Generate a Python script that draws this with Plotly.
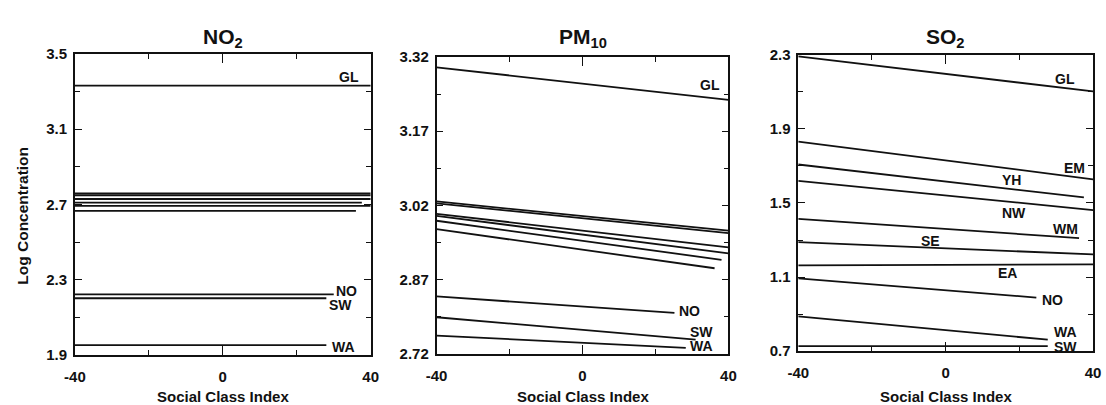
import plotly.graph_objects as go

# ---------------- data ----------------
x_start = -40

# NO2
no2_regions = ["GL", "EM", "YH", "NW", "WM", "SE", "EA", "NO", "SW", "WA"]
no2_y_start = [3.332, 2.759, 2.749, 2.729, 2.710, 2.692, 2.666, 2.222, 2.201, 1.952]
no2_y_end   = [3.332, 2.759, 2.749, 2.729, 2.710, 2.692, 2.666, 2.222, 2.201, 1.952]
no2_x_end   = [40, 40, 40, 40, 37.6, 40, 36, 30, 28, 28]
no2_labelled = ["GL", "NO", "SW", "WA"]

# PM10
pm10_regions = ["GL", "EM", "YH", "NW", "WM", "SE", "EA", "NO", "SW", "WA"]
pm10_y_start = [3.299, 3.028, 3.024, 3.003, 2.999, 2.989, 2.972, 2.836, 2.794, 2.757]
pm10_y_end   = [3.233, 2.969, 2.964, 2.935, 2.923, 2.910, 2.893, 2.803, 2.749, 2.732]
pm10_x_end   = [40, 40, 40, 40, 40, 38.1, 36.2, 25.2, 31, 28.3]
pm10_labelled = ["GL", "NO", "SW", "WA"]

# SO2
so2_regions = ["GL", "EM", "YH", "NW", "WM", "SE", "EA", "NO", "WA", "SW"]
so2_y_start = [2.293, 1.832, 1.708, 1.620, 1.414, 1.288, 1.163, 1.093, 0.887, 0.726]
so2_y_end   = [2.103, 1.628, 1.530, 1.462, 1.310, 1.222, 1.168, 0.989, 0.761, 0.726]
so2_x_end   = [40, 40, 37.5, 40, 36.2, 40, 40, 24.6, 27.7, 27.7]
so2_labelled = ["GL", "EM", "YH", "NW", "WM", "SE", "EA", "NO", "WA", "SW"]

no2_ticks = [1.9, 2.3, 2.7, 3.1, 3.5]
pm10_ticks = [2.72, 2.87, 3.02, 3.17, 3.32]
so2_ticks = [0.7, 1.1, 1.5, 1.9, 2.3]
x_ticks = [-40, 0, 40]

# ---------------- label placement (pixel offsets from line end) ----------------
label_offsets = {
    1: {"GL": (-22, 9), "NO": (13, 3), "SW": (14, -7), "WA": (17, -2)},
    2: {"GL": (-18, 15), "NO": (15, 2), "SW": (6, 8), "WA": (16, 2)},
    3: {"GL": (-28, 12), "EM": (-19, 11), "YH": (-72, 17), "NW": (-79, -3),
        "WM": (-14, 9), "SE": (-163, 13), "EA": (-86, -9), "NO": (16, -2),
        "WA": (18, 8), "SW": (18, -1)},
}

W, H = 1106, 405
FONT = "Liberation Sans, Arial, sans-serif"
INK = "#111111"

fig = go.Figure()

panels = [
    (1, no2_regions, no2_y_start, no2_y_end, no2_x_end, no2_labelled, no2_ticks,
     "NO<sub>2</sub>", (65, 366), (47, 361)),
    (2, pm10_regions, pm10_y_start, pm10_y_end, pm10_x_end, pm10_labelled, pm10_ticks,
     "PM<sub>10</sub>", (433, 730), (50, 360)),
    (3, so2_regions, so2_y_start, so2_y_end, so2_x_end, so2_labelled, so2_ticks,
     "SO<sub>2</sub>", (801, 1101), (48, 357)),
]

for idx, regions, ys, ye, xe, labelled, yticks, title, (px0, px1), (py0, py1) in panels:
    xa = "x" if idx == 1 else f"x{idx}"
    ya = "y" if idx == 1 else f"y{idx}"
    for r, a, b, e in zip(regions, ys, ye, xe):
        fig.add_trace(go.Scatter(
            x=[x_start, e], y=[a, b], mode="lines",
            line=dict(color=INK, width=1.8),
            xaxis=xa, yaxis=ya, showlegend=False, hoverinfo="skip"))
        if r in labelled:
            dx, dy = label_offsets[idx][r]
            fig.add_annotation(
                x=e, y=b, xref=xa, yref=ya, text=f"<b>{r}</b>", showarrow=False,
                xanchor="center", yanchor="middle", xshift=dx, yshift=dy,
                font=dict(family=FONT, size=14, color=INK))

    dy_major = yticks[1] - yticks[0]
    axis_common = dict(showline=True, linecolor=INK, linewidth=1.5,
                       mirror="ticks", ticks="inside", tickcolor=INK,
                       showgrid=False, zeroline=False,
                       tickfont=dict(family=FONT, size=15, color=INK))
    fig.update_layout(**{
        ("xaxis" if idx == 1 else f"xaxis{idx}"): dict(
            domain=[px0 / W, px1 / W], anchor=ya, range=[-40, 40],
            tickvals=x_ticks, ticktext=[f"<b>{v}</b>" for v in x_ticks],
            ticklen=9, tickwidth=1.3,
            minor=dict(ticks="inside", dtick=20, tick0=-40, ticklen=5,
                       tickcolor=INK, tickwidth=1, showgrid=False),
            ticklabelstandoff=7,
            **axis_common),
        ("yaxis" if idx == 1 else f"yaxis{idx}"): dict(
            domain=[1 - py1 / H, 1 - py0 / H], anchor=xa,
            range=[yticks[0], yticks[-1]],
            tickvals=yticks, ticktext=[f"<b>{v:g}</b>" for v in yticks],
            ticklen=7, tickwidth=1.3,
            minor=dict(ticks="inside", dtick=dy_major / 2, tick0=yticks[0],
                       ticklen=5, tickcolor=INK, tickwidth=1, showgrid=False),
            ticklabelstandoff=3,
            **axis_common),
    })
    # panel title
    fig.add_annotation(x=(px0 + px1) / 2 / W, y=1 - 30 / H, xref="paper", yref="paper",
                       text=f"<b>{title}</b>", showarrow=False, xanchor="center",
                       yanchor="middle", font=dict(family=FONT, size=21, color=INK))
    # x-axis title
    fig.add_annotation(x=(px0 + px1) / 2 / W, y=1 - 396 / H, xref="paper", yref="paper",
                       text="<b>Social Class Index</b>", showarrow=False, xanchor="center",
                       yanchor="middle", yshift=-8,
                       font=dict(family=FONT, size=15, color=INK))

# y-axis title
fig.add_annotation(x=12 / W, y=1 - 216 / H, xref="paper", yref="paper",
                   text="<b>Log Concentration</b>", showarrow=False, textangle=-90,
                   xanchor="center", yanchor="middle",
                   font=dict(family=FONT, size=15.5, color=INK))

fig.update_layout(width=W, height=H, margin=dict(l=0, r=0, t=0, b=0),
                  plot_bgcolor="white", paper_bgcolor="white")

fig.write_html("out.html")
